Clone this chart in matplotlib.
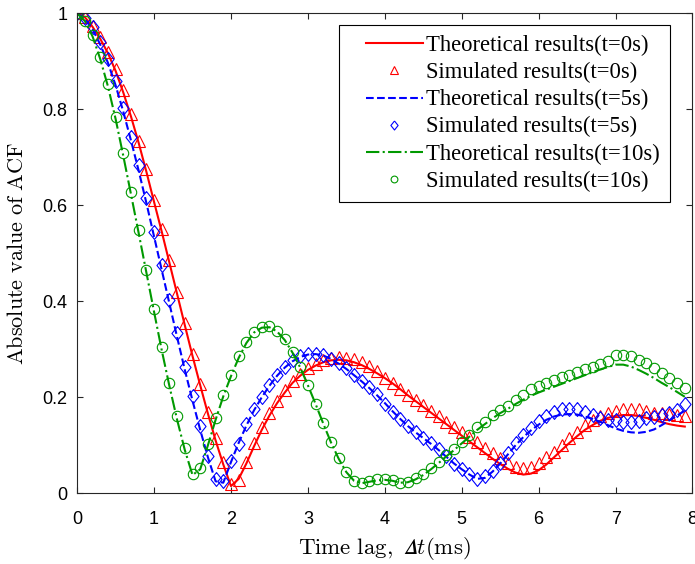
"""
Absolute value of the ACF: theoretical vs simulated, for t = 0, 5 and 10 s.
"""

import matplotlib
matplotlib.use('Agg')
from matplotlib import pyplot as plt
from matplotlib.ticker import FormatStrFormatter
from matplotlib.legend_handler import HandlerLine2D

# time lag (ms)
lag = [0.0, 0.1, 0.2, 0.3, 0.4, 0.5, 0.6, 0.7, 0.8, 0.9,
       1.0, 1.1, 1.2, 1.3, 1.4, 1.5, 1.6, 1.7, 1.8, 1.9,
       2.0, 2.1, 2.2, 2.3, 2.4, 2.5, 2.6, 2.7, 2.8, 2.9,
       3.0, 3.1, 3.2, 3.3, 3.4, 3.5, 3.6, 3.7, 3.8, 3.9,
       4.0, 4.1, 4.2, 4.3, 4.4, 4.5, 4.6, 4.7, 4.8, 4.9,
       5.0, 5.1, 5.2, 5.3, 5.4, 5.5, 5.6, 5.7, 5.8, 5.9,
       6.0, 6.1, 6.2, 6.3, 6.4, 6.5, 6.6, 6.7, 6.8, 6.9,
       7.0, 7.1, 7.2, 7.3, 7.4, 7.5, 7.6, 7.7, 7.8, 7.9]

theory_t0 = [1.0, 0.992, 0.972, 0.947, 0.917, 0.88, 0.835, 0.785, 0.73, 0.67,
             0.607, 0.545, 0.48, 0.415, 0.35, 0.286, 0.225, 0.166, 0.11, 0.06,
             0.015, 0.03, 0.062, 0.098, 0.132, 0.162, 0.188, 0.21, 0.23, 0.245,
             0.257, 0.266, 0.273, 0.277, 0.278, 0.277, 0.273, 0.267, 0.259, 0.25,
             0.24, 0.229, 0.217, 0.204, 0.192, 0.18, 0.168, 0.156, 0.144, 0.132,
             0.12, 0.108, 0.096, 0.084, 0.072, 0.061, 0.051, 0.043, 0.039, 0.041,
             0.048, 0.06, 0.075, 0.09, 0.105, 0.119, 0.132, 0.142, 0.151, 0.157,
             0.161, 0.163, 0.163, 0.161, 0.157, 0.153, 0.148, 0.144, 0.141, 0.139]
sim_t0 = [1.0, 0.993, 0.973, 0.95, 0.92, 0.885, 0.84, 0.79, 0.735, 0.675,
          0.612, 0.55, 0.485, 0.42, 0.355, 0.29, 0.228, 0.17, 0.115, 0.065,
          0.02, 0.027, 0.066, 0.104, 0.139, 0.168, 0.193, 0.215, 0.234, 0.248,
          0.26, 0.269, 0.277, 0.282, 0.284, 0.282, 0.279, 0.273, 0.265, 0.255,
          0.24, 0.23, 0.218, 0.205, 0.194, 0.183, 0.172, 0.161, 0.149, 0.138,
          0.128, 0.117, 0.107, 0.095, 0.084, 0.073, 0.063, 0.055, 0.052, 0.054,
          0.063, 0.075, 0.087, 0.1, 0.115, 0.128, 0.142, 0.152, 0.162, 0.168,
          0.172, 0.175, 0.175, 0.175, 0.172, 0.168, 0.167, 0.165, 0.164, 0.16]

theory_t5 = [1.0, 0.988, 0.967, 0.935, 0.897, 0.85, 0.795, 0.735, 0.672, 0.605,
             0.535, 0.465, 0.395, 0.325, 0.257, 0.193, 0.132, 0.075, 0.025, 0.022,
             0.065, 0.105, 0.141, 0.173, 0.2, 0.224, 0.245, 0.262, 0.275, 0.284,
             0.289, 0.29, 0.287, 0.28, 0.27, 0.259, 0.246, 0.233, 0.219, 0.204,
             0.188, 0.171, 0.155, 0.14, 0.127, 0.115, 0.103, 0.09, 0.076, 0.062,
             0.05, 0.039, 0.03, 0.032, 0.045, 0.062, 0.081, 0.1, 0.117, 0.131,
             0.143, 0.153, 0.16, 0.164, 0.165, 0.164, 0.16, 0.155, 0.149, 0.142,
             0.135, 0.13, 0.127, 0.126, 0.128, 0.133, 0.142, 0.152, 0.162, 0.172]
sim_t5 = [1.0, 0.99, 0.972, 0.94, 0.905, 0.86, 0.802, 0.743, 0.684, 0.615,
          0.544, 0.475, 0.403, 0.333, 0.264, 0.203, 0.141, 0.078, 0.029, 0.026,
          0.067, 0.103, 0.144, 0.176, 0.201, 0.225, 0.246, 0.264, 0.277, 0.286,
          0.291, 0.291, 0.288, 0.28, 0.271, 0.26, 0.247, 0.234, 0.221, 0.206,
          0.187, 0.169, 0.154, 0.14, 0.127, 0.116, 0.105, 0.093, 0.078, 0.062,
          0.05, 0.04, 0.029, 0.035, 0.047, 0.064, 0.084, 0.104, 0.121, 0.136,
          0.15, 0.161, 0.17, 0.176, 0.176, 0.175, 0.17, 0.163, 0.157, 0.153,
          0.152, 0.149, 0.149, 0.151, 0.156, 0.159, 0.163, 0.168, 0.174, 0.186]

theory_t10 = [1.0, 0.984, 0.952, 0.905, 0.848, 0.78, 0.703, 0.623, 0.542, 0.46,
              0.378, 0.298, 0.223, 0.153, 0.09, 0.038, 0.05, 0.1, 0.153, 0.202,
              0.244, 0.282, 0.313, 0.335, 0.345, 0.346, 0.337, 0.319, 0.293, 0.262,
              0.225, 0.186, 0.145, 0.106, 0.072, 0.044, 0.026, 0.021, 0.024, 0.027,
              0.028, 0.026, 0.022, 0.023, 0.029, 0.038, 0.05, 0.063, 0.077, 0.09,
              0.104, 0.118, 0.132, 0.144, 0.156, 0.167, 0.176, 0.186, 0.195, 0.203,
              0.21, 0.216, 0.222, 0.228, 0.234, 0.24, 0.246, 0.252, 0.258, 0.263,
              0.268, 0.268, 0.264, 0.257, 0.249, 0.24, 0.23, 0.221, 0.211, 0.201]
sim_t10 = [1.0, 0.985, 0.955, 0.908, 0.853, 0.785, 0.708, 0.628, 0.549, 0.465,
           0.383, 0.305, 0.23, 0.16, 0.094, 0.04, 0.052, 0.102, 0.156, 0.205,
           0.246, 0.285, 0.316, 0.337, 0.347, 0.348, 0.339, 0.321, 0.295, 0.264,
           0.226, 0.187, 0.146, 0.107, 0.073, 0.045, 0.026, 0.022, 0.026, 0.029,
           0.03, 0.027, 0.022, 0.024, 0.031, 0.04, 0.052, 0.066, 0.08, 0.092,
           0.107, 0.121, 0.139, 0.149, 0.163, 0.174, 0.182, 0.194, 0.205, 0.217,
           0.223, 0.229, 0.236, 0.242, 0.247, 0.252, 0.258, 0.264, 0.269, 0.276,
           0.288, 0.288, 0.285, 0.278, 0.271, 0.26, 0.25, 0.24, 0.229, 0.219]

green = (0.0, 0.6, 0.0)
diamond = [(0, 1), (0.8, 0), (0, -1), (-0.8, 0), (0, 1)]

plt.rcParams['mathtext.fontset'] = 'cm'
plt.rcParams['font.family'] = ['Liberation Sans', 'DejaVu Sans']

fig = plt.figure(figsize=(6.95, 5.64), dpi=100)
ax = fig.add_axes([0.111, 0.1254, 0.8854, 0.851])

ax.plot(lag, theory_t0, '-', color='red', linewidth=1.5, label='Theoretical results(t=0s)')
ax.plot(lag, sim_t0, '^', color='red', markerfacecolor='none', markersize=8,
        markeredgewidth=0.8, label='Simulated results(t=0s)')
ax.plot(lag, theory_t5, '--', color='blue', linewidth=1.5, label='Theoretical results(t=5s)')
ax.plot(lag, sim_t5, marker=diamond, linestyle='none', color='blue', markerfacecolor='none',
        markersize=10, markeredgewidth=0.8, label='Simulated results(t=5s)')
ax.plot(lag, theory_t10, '-.', color=green, linewidth=1.5, label='Theoretical results(t=10s)')
ax.plot(lag, sim_t10, 'o', color=green, markerfacecolor='none', markersize=7.5,
        markeredgewidth=0.8, label='Simulated results(t=10s)')

ax.set_xlim(0, 8)
ax.set_ylim(0, 1)
ax.set_xticks(range(9))
ax.set_yticks([0, 0.2, 0.4, 0.6, 0.8, 1])
ax.yaxis.set_major_formatter(FormatStrFormatter('%g'))
ax.tick_params(direction='in', top=True, right=True, length=4, width=0.8,
               labelsize=13, color='#262626')
ax.tick_params(axis='x', pad=13)
ax.tick_params(axis='y', pad=7)
for s in ax.spines.values():
    s.set_color('#262626')
    s.set_linewidth(0.8)

ax.set_xlabel(r'$\mathrm{Time\ lag,}\ 𝛥t\mathrm{(ms)}$', fontsize=16.5, labelpad=5)
ax.set_ylabel(r'$\mathrm{Absolute\ value\ of\ ACF}$', fontsize=16, labelpad=10)

# MATLAB-like legend: extra room left of the handles
hm = {h: HandlerLine2D(xpad=0.75) for h in ax.get_lines()}
leg = ax.legend(loc='upper right', bbox_to_anchor=(0.9634, 0.9756), borderaxespad=0,
                prop={'family': 'Liberation Serif', 'size': 16.3}, fancybox=False,
                edgecolor='black', framealpha=1, handlelength=3.25, markerscale=0.65,
                labelspacing=0.26, handletextpad=0.15, borderpad=0.45, handler_map=hm)
leg.get_frame().set_linewidth(0.8)

plt.savefig('out.png', dpi=100)
